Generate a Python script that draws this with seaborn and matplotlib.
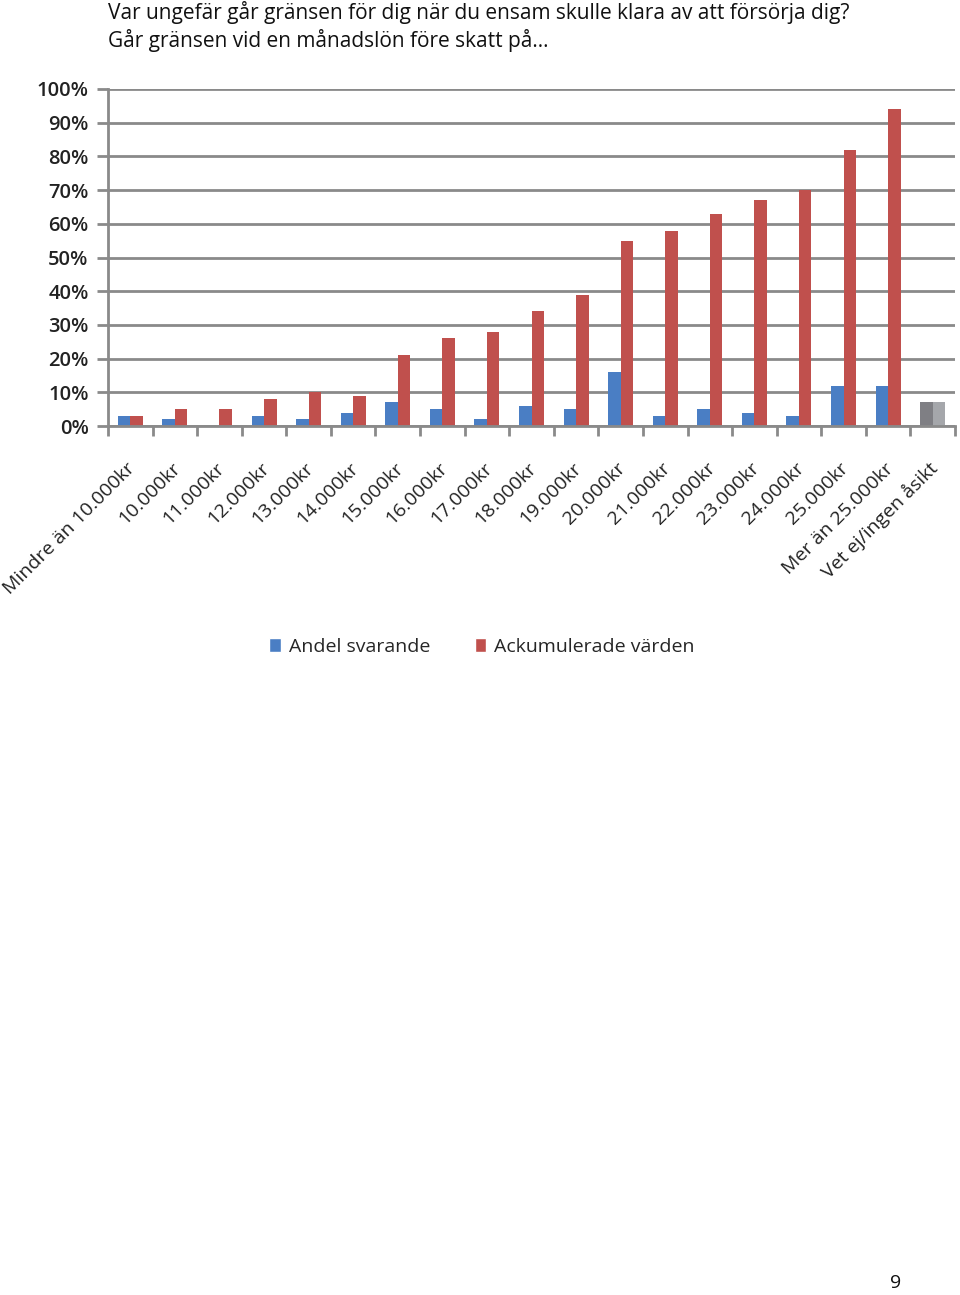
import matplotlib
matplotlib.use("Agg")
import matplotlib.pyplot as plt
import seaborn as sns
import pandas as pd
import numpy as np
from matplotlib.patches import Patch

categories = ["Mindre än 10.000kr", "10.000kr", "11.000kr", "12.000kr", "13.000kr",
              "14.000kr", "15.000kr", "16.000kr", "17.000kr", "18.000kr", "19.000kr",
              "20.000kr", "21.000kr", "22.000kr", "23.000kr", "24.000kr", "25.000kr",
              "Mer än 25.000kr", "Vet ej/ingen åsikt"]
andel = [3, 2, 0, 3, 2, 4, 7, 5, 2, 6, 5, 16, 3, 5, 4, 3, 12, 12, 7]
ackumulerade = [3, 5, 5, 8, 10, 9, 21, 26, 28, 34, 39, 55, 58, 63, 67, 70, 82, 94, 7]
series_names = ["Andel svarande", "Ackumulerade värden"]

title_lines = ["Var ungefär går gränsen för dig när du ensam skulle klara av att försörja dig?",
               "Går gränsen vid en månadslön före skatt på…"]
page_number = "9"

sns.set_theme(style="white")
plt.rcParams["font.family"] = ["Open Sans", "DejaVu Sans"]

df = pd.DataFrame({
    "kategori": categories * 2,
    "serie": [series_names[0]] * len(categories) + [series_names[1]] * len(categories),
    "varde": [v / 100 for v in andel] + [v / 100 for v in ackumulerade],
})

blue = "#4A7EC4"
red = "#C0504D"
grey_dark = "#7F7F84"
grey_light = "#A5A7AB"

fig = plt.figure(figsize=(9.6, 12.95), dpi=100)
ax = fig.add_axes([108 / 960, 1 - 426 / 1295, (955 - 108) / 960, (426 - 89) / 1295])

sns.barplot(data=df, x="kategori", y="varde", hue="serie", order=categories,
            hue_order=series_names, palette=[blue, red], width=0.56,
            ax=ax, legend=False, saturation=1)

# recolor the "Vet ej" group in greys
n = len(categories)
patches = [p for p in ax.patches]
patches[n - 1].set_facecolor(grey_dark)
patches[2 * n - 1].set_facecolor(grey_light)
for p in patches:
    p.set_edgecolor("none")

ax.set_ylim(0, 1.0)
ax.set_xlim(-0.5, n - 0.5)
ax.set_yticks(np.arange(0, 1.01, 0.1))
ax.set_yticklabels([f"{int(round(v * 100))}%" for v in np.arange(0, 1.01, 0.1)],
                   fontsize=14.5, color="#222222", fontweight="semibold")
ax.yaxis.grid(True, color="#8a8a8a", linewidth=2)
ax.set_axisbelow(True)
ax.set_xlabel("")
ax.set_ylabel("")

for s in ["top", "right"]:
    ax.spines[s].set_visible(False)
for s in ["left", "bottom"]:
    ax.spines[s].set_color("#8a8a8a")
    ax.spines[s].set_linewidth(2)

ax.tick_params(axis="y", which="major", left=True, length=8, width=2, color="#8a8a8a", pad=6)
ax.set_xticks(range(n))
ax.set_xticklabels(categories, rotation=45, ha="right", rotation_mode="anchor",
                   fontsize=14, color="#222222")
ax.tick_params(axis="x", which="major", bottom=False, length=0, pad=24)
ax.set_xticks(np.arange(-0.5, n, 1.0), minor=True)
ax.tick_params(axis="x", which="minor", bottom=True, length=7, width=2, color="#8a8a8a")
for lbl in ax.get_xticklabels():
    lbl.set_transform(lbl.get_transform() + matplotlib.transforms.ScaledTranslation(-4 / 100, 0, fig.dpi_scale_trans))

handles = [Patch(facecolor=blue, label=series_names[0]),
           Patch(facecolor=red, label=series_names[1])]
fig.legend(handles=handles, loc="center", bbox_to_anchor=(482 / 960, 1 - 647 / 1295),
           ncol=2, frameon=False, fontsize=14, handlelength=0.6, handleheight=0.75,
           handletextpad=0.4, columnspacing=2.3)

fig.text(108 / 960, 1 - 13 / 1295, title_lines[0], fontsize=15, va="center", ha="left", color="#111111")
fig.text(108 / 960, 1 - 40 / 1295, title_lines[1], fontsize=15, va="center", ha="left", color="#111111")
fig.text(896 / 960, 1 - 1283 / 1295, page_number, fontsize=14, va="center", ha="center", color="#111111")

fig.savefig("out.png", dpi=100)
